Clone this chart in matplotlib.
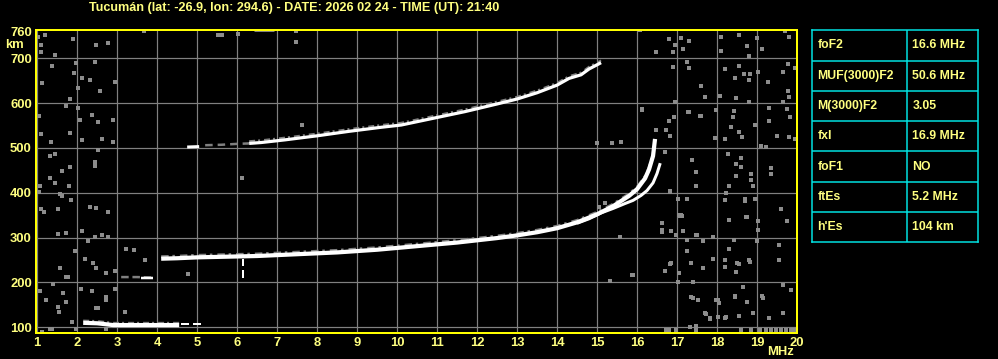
import matplotlib
matplotlib.use("Agg")
import matplotlib.pyplot as plt
import numpy as np

# ---------------- data ----------------
title = "Tucumán (lat: -26.9, lon: 294.6) - DATE: 2026 02 24 - TIME (UT): 21:40"

freq_ticks = list(range(1, 21))
height_grid = [100, 200, 300, 400, 500, 600, 700]
height_labels = [100, 200, 300, 400, 500, 600, 700, 760]

# F2 ordinary trace
o_f = [4.1, 4.5, 5.0, 5.5, 6.0, 6.5, 7.0, 7.5, 8.0, 8.5, 9.0, 9.5, 10.0, 10.5, 11.0,
       11.5, 12.0, 12.5, 13.0, 13.5, 14.0, 14.5, 15.0, 15.4, 15.8, 16.0, 16.2, 16.3, 16.4, 16.45]
o_h = [253, 254, 256, 257, 258, 259, 261, 263, 265, 267, 270, 273, 277, 281, 285,
       289, 294, 299, 305, 312, 321, 334, 352, 370, 393, 408, 432, 452, 482, 520]

# F2 extraordinary trace
x_f = [14.5, 14.8, 15.1, 15.4, 15.7, 15.9, 16.1, 16.25, 16.4, 16.5, 16.58]
x_h = [332, 342, 355, 365, 376, 383, 394, 405, 422, 443, 466]

# second hop F2 trace
m_f = [6.3, 6.6, 7.2, 8.0, 8.8, 9.6, 10.1, 10.9, 11.7, 12.5, 13.0, 13.5, 14.0, 14.3, 14.6, 14.8, 15.1]
m_h = [510, 512, 518, 527, 537, 546, 551, 566, 581, 598, 609, 623, 640, 655, 663, 676, 690]
m_start_f = [4.75, 5.05]
m_start_h = [502, 503]
m_gray_f = [5.2, 5.6, 6.0, 6.3]
m_gray_h = [506, 507, 509, 510]

# sporadic E trace and its multiple
es_f = [2.15, 2.5, 2.9, 3.2, 3.8, 4.2, 4.55]
es_h = [110, 109, 105, 105, 105, 105, 105]
es_tail_f = [4.6, 5.2]
es_tail_h = [108, 108]
es2_f = [3.1, 3.5, 3.9]
es2_h = [212, 212, 211]
es2_white_f = [3.6, 3.9]
es2_white_h = [211, 211]

spike_f = [6.15, 6.15]
spike_h = [211, 252]

# scattered noise points (freq MHz, height km)
noise_f = [1.03, 1.19, 1.09, 1.9, 2.48, 2.78, 1.44, 1.09, 1.38, 1.98, 2.44, 1.13, 1.92, 2.13, 2.32,
           2.03, 2.57, 2.94, 1.83, 1.05, 1.73, 2.01, 2.08, 2.38, 2.53, 2.9, 1.09, 1.83, 2.11, 1.34,
           2.61, 2.9, 1.33, 1.44, 1.61, 1.83, 2.44, 2.44, 2.52, 1.33, 1.44, 1.07, 1.79, 1.57, 1.63,
           1.04, 1.84, 1.53, 2.32, 2.78, 2.46, 1.09, 1.17,
           1.53, 1.73, 2.13, 2.44, 2.61, 2.78, 1.94, 2.28, 2.19, 2.4, 2.48, 2.73, 2.94, 1.58, 1.73,
           1.76, 1.4, 1.07, 1.23, 1.53, 1.55, 1.65, 1.73, 2.09, 2.38, 2.73, 2.73, 2.94, 2.53, 2.47,
           3.19, 1.86, 1.32, 1.38, 1.98, 2.73, 1.13, 3.23, 3.43, 3.69,
           16.08, 16.8, 16.94, 16.89, 16.48, 17.11, 17.3, 17.15, 18.11, 18.54, 18.76, 18.99, 19.13,
           18.09, 19.69, 19.8, 18.79, 16.89, 17.24, 17.3, 18.19, 18.54, 18.68, 18.82, 18.79, 18.44,
           19.03, 19.28, 19.64, 19.78, 19.94, 17.59, 17.69, 18.08, 18.48, 18.8, 19.65, 19.78, 19.81,
           16.94, 16.13, 17.3, 17.59, 17.98, 18.43, 18.4, 16.8, 16.93, 18.94, 19.3, 19.3, 19.74,
           19.82, 16.48, 16.73, 16.83, 17.96, 18.19, 18.34, 18.54, 18.63, 19.49, 19.8, 19.96, 19.11,
           19.23, 16.69, 17.38, 17.48, 18.28, 18.48, 18.59, 18.59, 18.48, 18.84, 18.86, 19.36, 19.36,
           17.48, 18.29, 18.9, 16.83, 17.03, 17.24, 18.19, 18.23, 18.69, 18.69, 18.94, 19.59, 16.63,
           16.84, 16.63, 17.05, 17.08, 17.15, 17.5, 18.3, 18.74, 18.72, 19.02, 19.02, 19.74, 17.26,
           17.64, 17.91, 18.19, 18.29, 18.43, 18.51, 18.56, 18.79, 18.82, 18.99, 19.55, 19.55, 16.84,
           16.69, 15.9, 17.05, 17.24, 17.34, 17.4, 17.64, 18.21, 18.48, 18.65, 18.74, 18.44, 18.05,
           17.72, 17.83, 18.03, 18.23, 18.21, 18.54, 18.9, 19.3, 19.64, 19.86, 19.65, 17.34, 17.4,
           17.98, 18.02, 18.44, 19.13, 19.15, 17.48,
           16.73, 16.8, 16.97, 17.33, 17.48, 18.61, 18.86, 19.07, 19.23, 19.36, 19.48, 19.6, 19.73,
           19.85, 19.93,
           5.52, 5.63, 6.02, 3.68, 7.48, 7.48,
           15.38, 15.59, 14.99, 16.83, 16.63, 16.63, 16.84, 16.98, 17.13, 17.1, 17.48, 17.64, 17.89,
           17.24, 17.34, 16.83, 15.88, 15.33, 15.58, 15.19, 15.05, 17.03, 17.39, 17.53, 17.69, 17.82,
           6.13, 7.63, 4.78, 16.13, 16.79, 17.27, 17.58, 17.98]
noise_h = [748, 752, 730, 743, 730, 735, 708, 713, 683, 690, 692, 644, 667, 655, 652,
           633, 626, 648, 610, 572, 594, 590, 562, 574, 558, 562, 531, 533, 518, 514,
           519, 514, 481, 487, 449, 457, 469, 460, 495, 432, 421, 414, 414, 397, 393,
           402, 384, 364, 369, 356, 367, 364, 356,
           308, 311, 315, 302, 306, 302, 271, 293, 252, 243, 232, 220, 226, 232, 213,
           213, 197, 181, 162, 146, 135, 176, 157, 186, 182, 168, 160, 186, 142, 143,
           135, 112, 96, 97, 96, 96, 90, 275, 272, 249,
           762, 742, 730, 713, 713, 744, 739, 720, 748, 752, 728, 745, 720,
           717, 760, 748, 704, 681, 692, 678, 677, 683, 665, 665, 652, 656,
           670, 648, 670, 687, 678, 638, 613, 616, 611, 603, 603, 626, 614,
           603, 586, 579, 571, 585, 583, 570, 561, 570, 551, 589, 559, 586,
           570, 540, 540, 527, 523, 519, 547, 536, 524, 527, 524, 519, 504,
           501, 490, 472, 447, 487, 464, 477, 458, 437, 442, 428, 455, 442,
           414, 414, 414, 402, 386, 386, 384, 399, 386, 382, 386, 364, 333,
           315, 313, 350, 349, 315, 306, 339, 345, 346, 336, 316, 338, 295,
           293, 252, 249, 275, 295, 244, 242, 249, 246, 293, 284, 250, 243,
           226, 217, 222, 271, 244, 202, 232, 234, 224, 189, 157, 170, 154,
           130, 118, 122, 124, 120, 125, 131, 120, 133, 183, 194, 168, 165,
           162, 162, 168, 170, 166, 103,
           94, 93, 94, 101, 94, 94, 94, 94, 94, 93, 94, 93, 95,
           94, 93,
           752, 752, 755, 761, 760, 736,
           512, 514, 510, 405, 332, 318, 315, 306, 348, 350, 306, 293, 302,
           271, 244, 241, 217, 203, 302, 378, 369, 202, 202, 162, 131, 120,
           432, 550, 218, 585, 561, 579, 571, 585]

top_bar_f = [6.42, 6.92]
top_bar_h = [762, 762]

params = ["foF2", "MUF(3000)F2", "M(3000)F2", "fxI", "foF1", "ftEs", "h'Es"]
values = ["16.6 MHz", "50.6 MHz", "3.05", "16.9 MHz", "NO", "5.2 MHz", "104 km"]

# ---------------- style ----------------
W, H = 998, 359
TXT = "#ffff80"
YEL = "#ffff00"
GRID = "#808080"
CYAN = "#00e5e5"
FONT = ["Liberation Sans", "DejaVu Sans"]
px = 0.72  # one pixel in points at dpi 100

fig = plt.figure(figsize=(W / 100, H / 100), dpi=100, facecolor="black")
ax = fig.add_axes([36 / W, 1 - 332.7 / H, (797 - 36) / W, (332.7 - 29.5) / H])
ax.set_facecolor("black")
ax.set_xlim(0.97, 20)
ax.set_ylim(88, 764)

for f in freq_ticks[:-1]:
    ax.axvline(f, color=GRID, lw=1.2 * px, zorder=1)
for h in height_grid:
    ax.axhline(h, color=GRID, lw=1.2 * px, zorder=1)

# noise
ax.scatter(noise_f, noise_h, marker="s", s=6.5, color="#8c8c8c", linewidths=0, zorder=2)
ax.plot(top_bar_f, top_bar_h, color=GRID, lw=3 * px, solid_capstyle="butt", zorder=2)

# gray fringes
def fringe(fs, hs, off, lw):
    ax.plot(fs, [v + off for v in hs], color=GRID, lw=lw * px, dashes=(3, 1.5, 1, 2),
            solid_capstyle="butt", zorder=3)

fringe(o_f, o_h, 5, 2.5)
fringe(m_f, m_h, 5, 2.0)
fringe(es_f, es_h, 5, 2.0)

lw_main = 4.2 * px
ax.plot(o_f, o_h, color="white", lw=lw_main, solid_capstyle="butt", zorder=4)
ax.plot(x_f, x_h, color="white", lw=3 * px, solid_capstyle="butt", zorder=4)
ax.plot(m_f, m_h, color="white", lw=3.2 * px, solid_capstyle="butt", zorder=4)
ax.plot(m_start_f, m_start_h, color="white", lw=3 * px, solid_capstyle="butt", zorder=4)
ax.plot(m_gray_f, m_gray_h, color=GRID, lw=2.5 * px, dashes=(3, 2), zorder=3)
ax.plot(es_f, es_h, color="white", lw=4.2 * px, solid_capstyle="butt", zorder=4)
ax.plot(es_tail_f, es_tail_h, color="white", lw=2 * px, dashes=(4, 2), solid_capstyle="butt", zorder=4)
ax.plot(es2_f, es2_h, color=GRID, lw=2.5 * px, dashes=(3, 1.5), solid_capstyle="butt", zorder=3)
ax.plot(es2_white_f, es2_white_h, color="white", lw=2.5 * px, solid_capstyle="butt", zorder=4)
ax.plot(spike_f, spike_h, color="white", lw=2 * px, dashes=(4, 2), solid_capstyle="butt", zorder=4)

for s in ax.spines.values():
    s.set_color(YEL)
    s.set_linewidth(2 * px)
    s.set_zorder(6)

ax.set_xticks(freq_ticks)
ax.set_xticklabels([str(f) for f in freq_ticks])
ax.set_yticks(height_labels)
ax.set_yticklabels([str(h) for h in height_labels])
ax.tick_params(length=0, colors=TXT, labelsize=9.4, pad=3)
for lab in ax.get_xticklabels() + ax.get_yticklabels():
    lab.set_fontweight("bold")
    lab.set_family(FONT)

fig.text(5.5 / W, 1 - 45 / H, "km", color=TXT, fontsize=9.4, fontweight="bold",
         family=FONT, ha="left", va="center")
fig.text(780 / W, 1 - 352 / H, "MHz", color=TXT, fontsize=9.4, fontweight="bold",
         family=FONT, ha="center", va="center")
fig.text(294 / W, 1 - 7.5 / H, title, color=TXT, fontsize=9.05, fontweight="bold",
         family=FONT, ha="center", va="center")

# parameter table
tx0, tx1, ty0, ty1 = 812.3, 977.7, 30.3, 242.3
tab = fig.add_axes([tx0 / W, 1 - ty1 / H, (tx1 - tx0) / W, (ty1 - ty0) / H])
tab.set_facecolor("black")
tab.set_xlim(tx0, tx1)
tab.set_ylim(ty1, ty0)
tab.set_xticks([])
tab.set_yticks([])
for s in tab.spines.values():
    s.set_color(CYAN)
    s.set_linewidth(1.5 * px)
n = len(params)
rh = (ty1 - ty0) / n
tab.axvline(907.3, color=CYAN, lw=1.5 * px)
for i in range(1, n):
    tab.axhline(ty0 + i * rh, color=CYAN, lw=1.5 * px)
for i, (p, v) in enumerate(zip(params, values)):
    yc = ty0 + (i + 0.5) * rh
    tab.text(817.5, yc, p, color=TXT, fontsize=8.8, fontweight="bold", family=FONT,
             ha="left", va="center")
    tab.text(912.5, yc, v, color=TXT, fontsize=8.8, fontweight="bold", family=FONT,
             ha="left", va="center")

fig.savefig("out.png", dpi=100, facecolor="black")
